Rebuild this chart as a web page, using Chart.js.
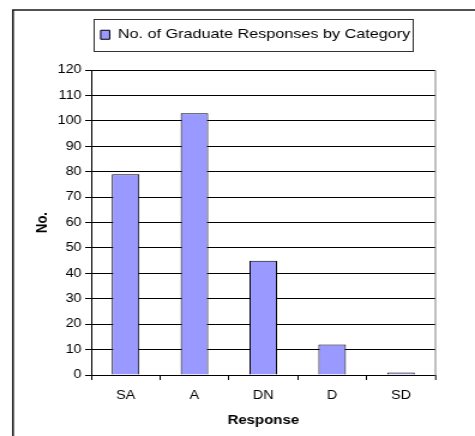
<!DOCTYPE html>
<html>
<head>
<meta charset="utf-8">
<script src="https://cdn.jsdelivr.net/npm/chart.js@4/dist/chart.umd.min.js"></script>
<style>
  html, body { margin: 0; padding: 0; background: #fff; overflow: hidden; }
  #wrap { width: 396px; height: 436px; transform: scaleX(1.1995); transform-origin: 0 0; }
  canvas { display: block; }
</style>
</head>
<body>
<div id="wrap"><canvas id="chart" width="396" height="436" style="width:396px;height:436px"></canvas></div>
<script>
// Survey responses from graduates, by agreement category
const categories = ['SA', 'A', 'DN', 'D', 'SD'];
const responseCounts = [79, 103, 45, 12, 1];
const seriesName = 'No. of Graduate Responses by Category';
const yTicks = { min: 0, max: 120, step: 10 };

const FONT = '"Liberation Sans", Arial, Helvetica, sans-serif';

// Outer frame, plot border and legend box
const framePlugin = {
  id: 'frame',
  beforeLayout(chart) {
    const lg = chart.legend;
    if (lg && !lg._fixedFit) {
      const fit = lg.fit.bind(lg);
      lg.fit = function () { fit(); this.height = 52; };
      lg._fixedFit = true;
    }
  },
  afterLayout(chart) {
    const lg = chart.legend;
    if (lg) {
      const dx = 213 - (lg.left + lg.right) / 2;
      lg.left += dx; lg.right += dx;
    }
  },
  beforeDraw(chart) {
    const ctx = chart.ctx;
    ctx.save();
    ctx.fillStyle = '#fff';
    ctx.fillRect(0, 0, chart.width, chart.height);
    ctx.strokeStyle = '#1a1a1a';
    ctx.lineWidth = 1.6;
    ctx.beginPath();
    ctx.moveTo(10.8, chart.height + 2);
    ctx.lineTo(10.8, 10);
    ctx.lineTo(chart.width + 2, 10);
    ctx.stroke();
    ctx.restore();
  },
  afterDraw(chart) {
    const ctx = chart.ctx;
    const a = chart.chartArea;
    ctx.save();
    ctx.strokeStyle = '#808080';
    ctx.lineWidth = 1;
    ctx.beginPath();
    ctx.moveTo(a.right, a.top);
    ctx.lineTo(a.right, a.bottom + 5);
    ctx.stroke();
    const lg = chart.legend;
    if (lg && lg.legendHitBoxes && lg.legendHitBoxes.length) {
      const hb = lg.legendHitBoxes[0];
      const cy = hb.top + hb.height / 2;
      ctx.strokeStyle = '#333';
      ctx.lineWidth = 1;
      ctx.strokeRect(Math.round(hb.left - 6) + 0.5, Math.round(cy - 16) + 0.5,
                     Math.round(hb.width + 8), 32);
    }
    ctx.restore();
  }
};

new Chart(document.getElementById('chart'), {
  type: 'bar',
  data: {
    labels: categories,
    datasets: [{
      label: seriesName,
      data: responseCounts,
      backgroundColor: '#9999FF',
      borderColor: '#000000',
      borderWidth: 1,
      borderSkipped: 'bottom',
      barPercentage: 0.4,
      categoryPercentage: 1.0
    }]
  },
  options: {
    responsive: false,
    animation: false,
    devicePixelRatio: 1,
    layout: { padding: { left: 24, right: 33, top: 18, bottom: 4 } },
    plugins: {
      legend: {
        display: true,
        position: 'top',
        labels: {
          font: { family: FONT, size: 13.5 },
          color: '#000',
          boxWidth: 7.5,
          boxHeight: 9,
          padding: 10,
          generateLabels(chart) {
            const ds = chart.data.datasets[0];
            return [{
              text: ds.label,
              fillStyle: ds.backgroundColor,
              strokeStyle: '#000',
              lineWidth: 1,
              fontColor: '#000',
              datasetIndex: 0,
              hidden: false
            }];
          }
        }
      },
      tooltip: { enabled: false },
      title: { display: false }
    },
    scales: {
      x: {
        afterFit(scale) { scale.height = 57; },
        grid: {
          display: true,
          drawOnChartArea: false,
          drawTicks: true,
          tickLength: 5,
          offset: true,
          color: '#000',
          lineWidth: 1
        },
        border: { display: true, color: '#000', width: 1 },
        ticks: {
          font: { family: FONT, size: 12 },
          color: '#000',
          padding: 8,
          maxRotation: 0
        },
        title: {
          display: true,
          text: 'Response',
          font: { family: FONT, size: 12.5, weight: 'bold' },
          color: '#000',
          padding: { top: 4, bottom: 4 }
        }
      },
      y: {
        min: yTicks.min,
        max: yTicks.max,
        afterFit(scale) { scale.width = 52; },
        grid: {
          display: true,
          drawOnChartArea: true,
          drawTicks: true,
          tickLength: 5,
          color: '#000',
          lineWidth: 1
        },
        border: { display: true, color: '#000', width: 1 },
        ticks: {
          stepSize: yTicks.step,
          font: { family: FONT, size: 12 },
          color: '#000',
          padding: 3
        },
        title: {
          display: true,
          text: 'No.',
          font: { family: FONT, size: 13, weight: 'bold' },
          color: '#000',
          padding: { top: 4, bottom: 4 }
        }
      }
    }
  },
  plugins: [framePlugin]
});
</script>
</body>
</html>
